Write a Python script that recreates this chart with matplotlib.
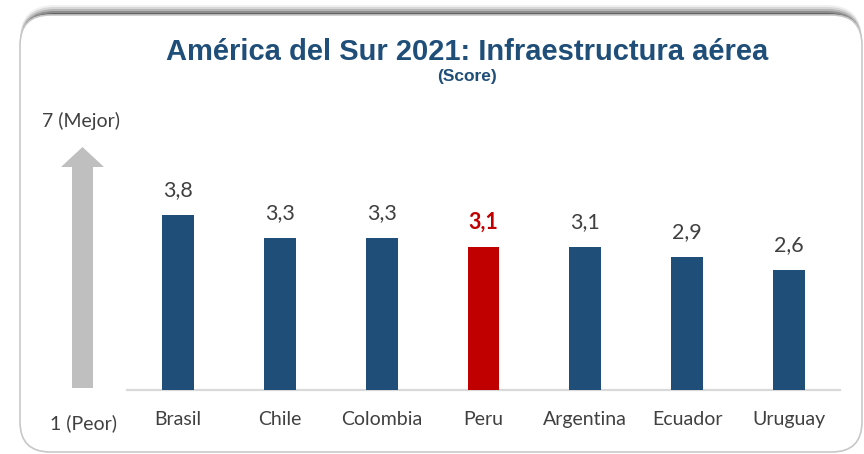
import matplotlib
matplotlib.use("Agg")
import matplotlib.pyplot as plt
from matplotlib.patches import FancyBboxPatch, Polygon
import numpy as np

categories = ["Brasil", "Chile", "Colombia", "Peru", "Argentina", "Ecuador", "Uruguay"]
values = [3.8, 3.3, 3.3, 3.1, 3.1, 2.9, 2.6]
highlight = "Peru"
title = "América del Sur 2021: Infraestructura aérea"
subtitle = "(Score)"
top_label = "7 (Mejor)"
bottom_label = "1 (Peor)"

W, H = 864, 454
BLUE = "#1F4E79"
RED = "#C00000"
TXT = "#404040"
FONT = ["Lato", "DejaVu Sans"]

fig = plt.figure(figsize=(W / 100, H / 100), dpi=100)
fig.patch.set_facecolor("white")

def fx(x):
    return x / W

def fy(y):
    return 1 - y / H

# shadow along the top edge of the frame
for i, a in enumerate([0.06, 0.1, 0.15, 0.22, 0.3]):
    off = 10 - 2 * i
    sh = FancyBboxPatch((fx(20), fy(200)), fx(842), (200 - 15 + off) / H,
                        boxstyle="round,pad=0,rounding_size=0.04",
                        transform=fig.transFigure, facecolor="#000000", alpha=a,
                        edgecolor="none", mutation_aspect=W / H, zorder=0)
    fig.add_artist(sh)
frame = FancyBboxPatch((fx(20), fy(452)), fx(842), (452 - 15) / H,
                       boxstyle="round,pad=0,rounding_size=0.035",
                       transform=fig.transFigure, facecolor="white",
                       edgecolor="#C8C8C8", linewidth=1.2, mutation_aspect=W / H, zorder=1)
fig.add_artist(frame)

ax = fig.add_axes([fx(127), fy(390), fx(840) - fx(127), 240 / H])
ax.set_zorder(3)
ax.patch.set_alpha(0)
x = np.arange(len(categories))
colors = [RED if c == highlight else BLUE for c in categories]
ax.bar(x, values, width=32 / 102, color=colors, zorder=3)
ax.set_xlim(-0.5, len(categories) - 0.5)
ax.set_ylim(0, 240 / 46)
for s in ["top", "right", "left"]:
    ax.spines[s].set_visible(False)
ax.spines["bottom"].set_color("#D9D9D9")
ax.spines["bottom"].set_linewidth(1.6)
ax.set_yticks([])
ax.set_xticks(x)
ax.set_xticklabels(categories, fontsize=14, color=TXT, family=FONT)
ax.tick_params(axis="x", length=0, pad=15)

for xi, v, c in zip(x, values, categories):
    hl = c == highlight
    ax.annotate(f"{v:.1f}".replace(".", ","), (xi, v), xytext=(0, 18),
                textcoords="offset points", ha="center", va="center",
                fontsize=15.5, color=RED if hl else TXT,
                fontweight="bold" if hl else "normal", family=FONT)

# arrow
arrow = Polygon([(fx(72), fy(388)), (fx(93), fy(388)), (fx(93), fy(167)),
                 (fx(104), fy(167)), (fx(82.5), fy(147)), (fx(61), fy(167)),
                 (fx(72), fy(167))], closed=True, transform=fig.transFigure,
                facecolor="#BFBFBF", edgecolor="none", zorder=2)
fig.add_artist(arrow)

fig.text(fx(81.5), fy(121), top_label, ha="center", va="center", fontsize=14,
         color=TXT, family=FONT, zorder=4)
fig.text(fx(84), fy(423), bottom_label, ha="center", va="center", fontsize=14,
         color=TXT, family=FONT, zorder=4)

fig.text(fx(467), fy(59.5), title, ha="center", va="baseline", fontsize=21,
         fontweight="bold", color=BLUE, family=["Liberation Sans", "DejaVu Sans"], zorder=4)
fig.text(fx(467), fy(76), subtitle, ha="center", va="center", fontsize=12.5,
         fontweight="bold", color=BLUE, family=["Liberation Sans", "DejaVu Sans"], zorder=4)

fig.savefig("out.png", dpi=100, facecolor="white")
